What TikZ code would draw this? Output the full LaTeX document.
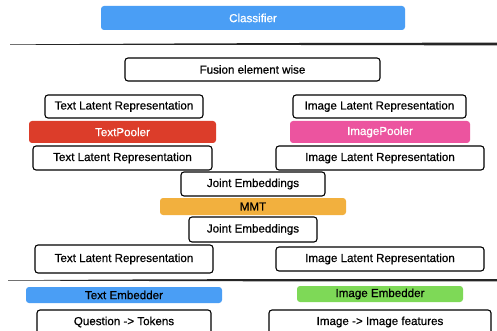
\documentclass[tikz,border=0pt]{standalone}
\usepackage{fontspec}
\setmainfont[FakeBold=0.6]{Liberation Sans}
\definecolor{cblue}{HTML}{4A9EF5}
\definecolor{cred}{HTML}{DC3D2A}
\definecolor{cpink}{HTML}{EC549F}
\definecolor{corange}{HTML}{F2B03E}
\definecolor{cgreen}{HTML}{7ED957}
\tikzset{
  base/.style={rounded corners=3pt, inner sep=0pt, font=\fontsize{11.6}{12}\selectfont},
  box/.style={base, draw=black, line width=1.1pt, fill=white},
  filled/.style={base, fill=#1},
}
\begin{document}
\begin{tikzpicture}[x=1pt,y=-1pt]
\useasboundingbox (0,0) rectangle (497,331);
\clip (0,0) rectangle (497,331);
\fill[white] (0,0) rectangle (497,331);
% separators
\fill[black!85] (10,44.4) -- (150,43.6) -- (300,43.0) -- (497,42.6) -- (497,45.4) -- (300,45.0) -- (150,44.8) -- (10,44.8) -- cycle;
\fill[black!85] (8,280.2) -- (150,279.4) -- (300,279.0) -- (497,279.0) -- (497,281.4) -- (300,281.4) -- (150,281.0) -- (8,280.6) -- cycle;
% nodes
\node[filled=cblue, text=white, minimum width=304pt, minimum height=24pt] (cls) at (253,18) {Classifier};
\node[box, minimum width=255pt, minimum height=23pt] (fus) at (252.5,69.5) {Fusion element wise};
\node[box, minimum width=158pt, minimum height=23pt] (tl1) at (124,106.5) {Text Latent Representation};
\node[box, minimum width=173pt, minimum height=23pt] (il1) at (379.5,106.5) {Image Latent Representation};
\node[filled=cred, text=white, minimum width=187pt, minimum height=22pt] (tp) at (122.5,132) {TextPooler};
\node[filled=cpink, text=white, minimum width=180pt, minimum height=22pt] (ip) at (380,132) {ImagePooler};
\node[box, minimum width=179pt, minimum height=24pt] (tl2) at (122.5,158) {Text Latent Representation};
\node[box, minimum width=208pt, minimum height=24pt] (il2) at (380,158) {Image Latent Representation};
\node[box, minimum width=144pt, minimum height=24pt] (je1) at (253,184) {Joint Embeddings};
\node[filled=corange, minimum width=186pt, minimum height=17pt] (mmt) at (253,206.5) {MMT};
\node[box, minimum width=128pt, minimum height=25pt] (je2) at (253,229.5) {Joint Embeddings};
\node[box, minimum width=178pt, minimum height=28pt] (tl3) at (124,259) {Text Latent Representation};
\node[box, minimum width=208pt, minimum height=24pt] (il3) at (380,259) {Image Latent Representation};
\node[filled=cblue, minimum width=196pt, minimum height=16pt] (te) at (124,295) {Text Embedder};
\node[filled=cgreen, minimum width=166pt, minimum height=16pt] (ie) at (380,294) {Image Embedder};
\node[box, minimum width=174pt, minimum height=24pt] (q) at (124,322) {Question -> Tokens};
\node[box, minimum width=222pt, minimum height=24pt] (imf) at (380,322) {Image -> Image features};
\end{tikzpicture}
\end{document}
